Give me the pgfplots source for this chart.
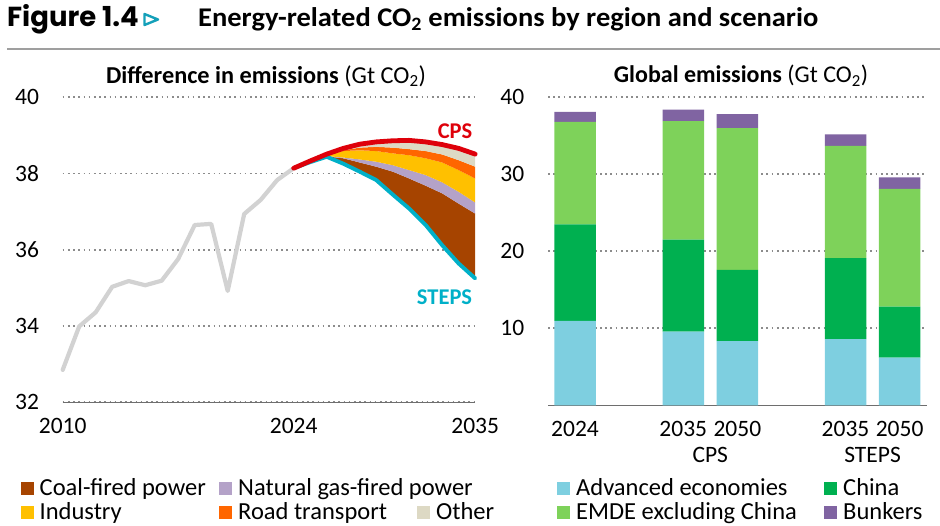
\documentclass[border=0pt]{standalone}
\usepackage{fontspec}
\setmainfont{Carlito}
\newfontfamily\figfont{Poppins}
\usepackage{pgfplots}
\pgfplotsset{compat=1.18}
\usepgfplotslibrary{fillbetween}

\definecolor{histgray}{RGB}{210,210,210}
\definecolor{cpsred}{RGB}{222,0,10}
\definecolor{stepscyan}{RGB}{0,176,200}
\definecolor{coalc}{RGB}{166,68,0}
\definecolor{gasc}{RGB}{180,162,200}
\definecolor{indc}{RGB}{255,192,0}
\definecolor{roadc}{RGB}{255,102,0}
\definecolor{otherc}{RGB}{221,217,196}
\definecolor{advc}{RGB}{126,207,224}
\definecolor{chinac}{RGB}{0,176,80}
\definecolor{emdec}{RGB}{126,210,90}
\definecolor{bunkc}{RGB}{128,100,162}
\definecolor{gridc}{RGB}{140,140,140}
\definecolor{axisc}{RGB}{110,110,110}
\definecolor{figtri}{RGB}{20,160,185}

\newcommand{\tickfont}{\fontsize{23.5}{28}\selectfont}
\newcommand{\legfont}{\fontsize{24.5}{28}\selectfont}

\pgfplotsset{
  iea/.style={
    scale only axis,
    anchor=south west,
    axis lines*=left,
    y axis line style={draw=none},
    x axis line style={axisc, line width=1.3pt},
    major tick length=0pt,
    ymajorgrids,
    grid style={gridc, line width=1.7pt, dash pattern=on 1.7pt off 3.5pt},
    tick label style={font=\tickfont, inner sep=0pt},
    /pgf/number format/assume math mode=true,
    yticklabel style={xshift=-23.5pt},
    xticklabel style={yshift=-16pt},
  }
}

\begin{document}
\begin{tikzpicture}

% heading
\node[anchor=base west, inner sep=0pt, font=\figfont\bfseries\fontsize{27.5}{30}\selectfont] at (7pt,498pt) {Figure 1.4};
\draw[figtri, line width=2.4pt, line join=round] (144.5pt,511pt) -- (158pt,505.5pt) -- (144.5pt,500pt) -- cycle;
\node[anchor=base west, inner sep=0pt, font=\bfseries\fontsize{27}{30}\selectfont] at (198pt,498pt) {\scalebox{1.055}[1]{Energy-related CO\textsubscript{2} emissions by region and scenario}};
\draw[gray!75, line width=2pt] (7pt,475.5pt) -- (940pt,475.5pt);

% left panel
\begin{axis}[iea,
  at={(62.7pt,122.7pt)},
  width=412.5pt, height=305pt,
  xmin=2010, xmax=2035, ymin=32, ymax=40,
  xtick={2010,2024,2035},
  ytick={32,34,36,38,40},
  xticklabel style={/pgf/number format/1000 sep={}},
  clip=false,
]
\addplot[draw=none, name path=sb, forget plot] coordinates {
(2026,38.44) (2027,38.26) (2028,38.05) (2029,37.83) (2030,37.45) (2031,37.08)
(2032,36.65) (2033,36.12) (2034,35.64) (2035,35.25)};
\addplot[draw=none, name path=coal, forget plot] coordinates {
(2026,38.45) (2027,38.40) (2028,38.29) (2029,38.18) (2030,38.05) (2031,37.87)
(2032,37.68) (2033,37.48) (2034,37.21) (2035,36.95)};
\addplot[draw=none, name path=gas, forget plot] coordinates {
(2026,38.46) (2027,38.42) (2028,38.37) (2029,38.31) (2030,38.22) (2031,38.09)
(2032,37.96) (2033,37.77) (2034,37.52) (2035,37.24)};
\addplot[draw=none, name path=ind, forget plot] coordinates {
(2026,38.48) (2027,38.59) (2028,38.61) (2029,38.59) (2030,38.53) (2031,38.48)
(2032,38.40) (2033,38.29) (2034,38.09) (2035,37.87)};
\addplot[draw=none, name path=road, forget plot] coordinates {
(2026,38.49) (2027,38.61) (2028,38.68) (2029,38.70) (2030,38.68) (2031,38.64)
(2032,38.59) (2033,38.50) (2034,38.35) (2035,38.18)};
\addplot[draw=none, name path=cpsb, forget plot] coordinates {
(2026,38.51) (2027,38.66) (2028,38.77) (2029,38.83) (2030,38.86) (2031,38.87)
(2032,38.83) (2033,38.76) (2034,38.66) (2035,38.51)};
\addplot[coalc, draw=none] fill between[of=coal and sb];
\addplot[gasc, draw=none] fill between[of=gas and coal];
\addplot[indc, draw=none] fill between[of=ind and gas];
\addplot[roadc, draw=none] fill between[of=road and ind];
\addplot[otherc, draw=none] fill between[of=cpsb and road];

% history
\addplot[histgray, line width=4.2pt, line join=round, line cap=round] coordinates {
(2010,32.85) (2011,33.99) (2012,34.36) (2013,35.03) (2014,35.18) (2015,35.07)
(2016,35.19) (2017,35.76) (2018,36.65) (2019,36.68) (2020,34.92) (2021,36.94)
(2022,37.31) (2023,37.83) (2024,38.14)};
% STEPS
\addplot[stepscyan, line width=3.9pt, line join=round, line cap=round] coordinates {
(2024,38.14) (2025,38.30) (2026,38.44) (2027,38.26) (2028,38.05) (2029,37.83)
(2030,37.45) (2031,37.08) (2032,36.65) (2033,36.12) (2034,35.64) (2035,35.25)};
% CPS
\addplot[cpsred, line width=4.8pt, line join=round, line cap=round] coordinates {
(2024,38.14) (2025,38.33) (2026,38.51) (2027,38.66) (2028,38.77) (2029,38.83)
(2030,38.86) (2031,38.87) (2032,38.83) (2033,38.76) (2034,38.66) (2035,38.51)};

\node[cpsred, font=\bfseries\fontsize{22.5}{26}\selectfont, inner sep=0pt] at (axis cs:2033.78,39.12) {CPS};
\node[stepscyan, font=\bfseries\fontsize{22.5}{26}\selectfont, inner sep=0pt] at (axis cs:2033.14,34.76) {STEPS};
\end{axis}
\node[font=\fontsize{24.3}{28}\selectfont, inner sep=0pt] at (266pt,449pt) {\textbf{Difference in emissions} (Gt CO\textsubscript{2})};

% right panel
\begin{axis}[iea,
  at={(548pt,119.7pt)},
  width=378.7pt, height=308pt,
  xmin=-0.5, xmax=6.5, ymin=0, ymax=40,
  ytick={10,20,30,40},
  xtick={0,2,3,5,6},
  xticklabels={2024,2035,2050,2035,2050},
  ybar stacked, bar width=41.5pt,
  clip=false,
]
\addplot[fill=advc, draw=none] coordinates {(0,10.95) (2,9.56) (3,8.35) (5,8.6) (6,6.2)};
\addplot[fill=chinac, draw=none] coordinates {(0,12.55) (2,11.94) (3,9.25) (5,10.5) (6,6.6)};
\addplot[fill=emdec, draw=none] coordinates {(0,13.3) (2,15.4) (3,18.4) (5,14.6) (6,15.3)};
\addplot[fill=bunkc, draw=none] coordinates {(0,1.3) (2,1.5) (3,1.8) (5,1.5) (6,1.5)};
\node[anchor=north, font=\tickfont, inner sep=0pt] at (axis cs:2.5,0) [yshift=-42pt] {CPS};
\node[anchor=north, font=\tickfont, inner sep=0pt] at (axis cs:5.5,0) [yshift=-42pt] {STEPS};
\end{axis}
\node[font=\fontsize{24}{28}\selectfont, inner sep=0pt] at (741pt,449pt) {\textbf{Global emissions} (Gt CO\textsubscript{2})};

% legends
\def\leg#1#2#3#4{\fill[#3] (#1pt,#2pt) rectangle ++(13pt,13pt);
  \node[anchor=base west, inner sep=0pt, font=\legfont] at (#1pt+19pt,#2pt) {#4};}
\leg{20.5}{30}{coalc}{Coal-fired power}
\leg{219}{30}{gasc}{Natural gas-fired power}
\leg{20.5}{5.8}{indc}{Industry}
\leg{219}{5.8}{roadc}{Road transport}
\leg{417}{5.8}{otherc}{Other}
\leg{557}{30}{advc}{Advanced economies}
\leg{824}{30}{chinac}{China}
\leg{557}{5.8}{emdec}{EMDE excluding China}
\leg{824}{5.8}{bunkc}{Bunkers}

\pgfresetboundingbox
\path[use as bounding box] (0pt,0pt) rectangle (940pt,525pt);
\end{tikzpicture}
\end{document}
